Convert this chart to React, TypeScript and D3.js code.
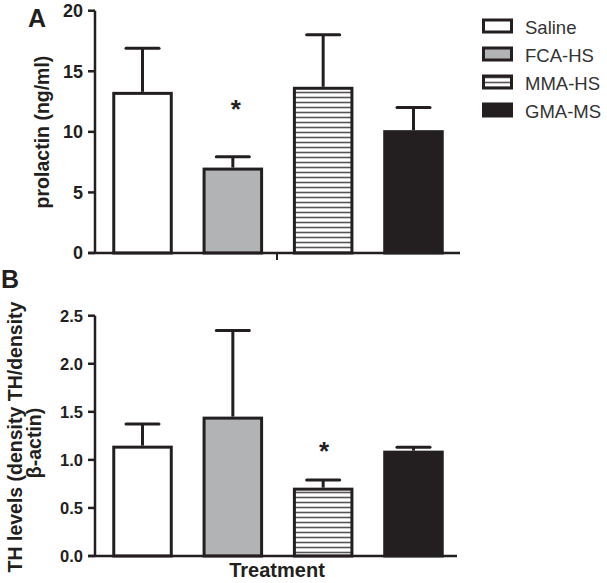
import React from "react";
import * as d3 from "d3";

const categories = ["Saline", "FCA-HS", "MMA-HS", "GMA-MS"];
const prolactinMean = [13.3, 7.05, 13.72, 10.14];
const prolactinSem = [3.6, 0.9, 4.3, 1.87];
const thMean = [1.148, 1.45, 0.711, 1.096];
const thSem = [0.226, 0.895, 0.08, 0.035];
const prolactinTicks = [0, 5, 10, 15, 20];
const thTicks = [0, 0.5, 1.0, 1.5, 2.0, 2.5];
const prolactinSig = [false, true, false, false];
const thSig = [false, false, true, false];

const INK = "#231f20";
const FONT = "'Liberation Sans', Arial, Helvetica, sans-serif";
const fills = ["#ffffff", "#b2b3b5", "url(#stripes)", INK];

const x = d3
  .scaleBand<string>()
  .domain(categories)
  .range([96, 460])
  .paddingInner(0.33)
  .paddingOuter(0.18);

type PanelProps = {
  means: number[];
  sems: number[];
  sig: boolean[];
  ticks: number[];
  domainMax: number;
  yTop: number;
  yBottom: number;
  tickFmt: (v: number) => string;
  tickFont: number;
  axisEnd: number;
  centerTick: boolean;
  starGap: number;
};

function Panel(p: PanelProps) {
  const y = d3.scaleLinear().domain([0, p.domainMax]).range([p.yBottom, p.yTop]);
  const bw = x.bandwidth();
  const axisX = 95;
  return (
    <g>
      {categories.map((c, i) => {
        const x0 = x(c)!;
        const cx = x0 + bw / 2;
        const top = y(p.means[i]);
        const capY = y(p.means[i] + p.sems[i]);
        return (
          <g key={c}>
            <line x1={cx} x2={cx} y1={top} y2={capY} stroke={INK} strokeWidth={3} />
            <line x1={cx - 16.5} x2={cx + 16.5} y1={capY} y2={capY} stroke={INK} strokeWidth={3} strokeLinecap="round" />
            <rect
              x={x0 + 1.5}
              y={top + 1.5}
              width={bw - 3}
              height={p.yBottom - top - 1.5}
              fill={fills[i]}
              stroke={INK}
              strokeWidth={3}
            />
            {p.sig[i] && (
              <text
                x={cx + (i === 1 ? 3 : 1)}
                y={capY - p.starGap}
                textAnchor="middle"
                fontFamily={FONT}
                fontWeight="bold"
                fontSize={26}
                fill={INK}
                dy="0.62em"
              >
                *
              </text>
            )}
          </g>
        );
      })}
      <line x1={axisX} x2={axisX} y1={p.yTop} y2={p.yBottom + 1} stroke={INK} strokeWidth={2.5} />
      <line x1={axisX - 7} x2={p.axisEnd} y1={p.yBottom} y2={p.yBottom} stroke={INK} strokeWidth={2.5} />
      {p.centerTick && (
        <line x1={277} x2={277} y1={p.yBottom} y2={p.yBottom + 7} stroke={INK} strokeWidth={2} />
      )}
      {p.ticks.map((t) => (
        <g key={t}>
          <line x1={axisX - 7} x2={axisX} y1={y(t)} y2={y(t)} stroke={INK} strokeWidth={2.5} />
          <text
            x={83}
            y={y(t)}
            dy="0.36em"
            textAnchor="end"
            fontFamily={FONT}
            fontWeight="bold"
            fontSize={p.tickFont}
            fill={INK}
          >
            {p.tickFmt(t)}
          </text>
        </g>
      ))}
    </g>
  );
}

export default function App() {
  return (
    <svg
      width={607}
      height={583}
      style={{ position: "absolute", left: 0, top: 0, background: "#fff" }}
    >
      <defs>
        <pattern id="stripes" patternUnits="userSpaceOnUse" width={10} height={5}>
          <rect width={10} height={5} fill="#ffffff" />
          <line x1={0} x2={10} y1={2.5} y2={2.5} stroke="#555" strokeWidth={1.6} />
        </pattern>
      </defs>
      <rect width={607} height={583} fill="#fff" />

      {/* Panel A */}
      <text x={28} y={27} fontFamily={FONT} fontWeight="bold" fontSize={25} fill={INK}>A</text>
      <Panel
        means={prolactinMean}
        sems={prolactinSem}
        sig={prolactinSig}
        ticks={prolactinTicks}
        domainMax={20}
        yTop={10.7}
        yBottom={253}
        tickFmt={(v) => d3.format("d")(v)}
        tickFont={18}
        axisEnd={460}
        centerTick={true}
        starGap={55}
      />
      <text
        transform="translate(49,132) rotate(-90)"
        textAnchor="middle"
        fontFamily={FONT}
        fontWeight="bold"
        fontSize={19.5}
        fill={INK}
      >
        prolactin (ng/ml)
      </text>

      {/* Panel B */}
      <text x={1} y={288} fontFamily={FONT} fontWeight="bold" fontSize={25} fill={INK}>B</text>
      <Panel
        means={thMean}
        sems={thSem}
        sig={thSig}
        ticks={thTicks}
        domainMax={2.5}
        yTop={315.7}
        yBottom={556}
        tickFmt={(v) => d3.format(".1f")(v)}
        tickFont={16.5}
        axisEnd={457}
        centerTick={false}
        starGap={36}
      />
      <text
        transform="translate(22,437) rotate(-90)"
        textAnchor="middle"
        fontFamily={FONT}
        fontWeight="bold"
        fontSize={19.5}
        fill={INK}
      >
        TH levels (density TH/density
      </text>
      <text
        transform="translate(41,443) rotate(-90)"
        textAnchor="middle"
        fontFamily={FONT}
        fontWeight="bold"
        fontSize={19.5}
        fill={INK}
      >
        β-actin)
      </text>
      <text
        x={277}
        y={577}
        textAnchor="middle"
        fontFamily={FONT}
        fontWeight="bold"
        fontSize={20}
        fill={INK}
      >
        Treatment
      </text>

      {/* Legend */}
      {categories.map((c, i) => {
        const base = 33.5 + i * 28;
        return (
          <g key={c}>
            <rect
              x={483.5}
              y={base - 13.5}
              width={28}
              height={12}
              fill={fills[i]}
              stroke={INK}
              strokeWidth={3}
            />
            <text x={525} y={base} fontFamily={FONT} fontSize={18.5} fill="#333">
              {c}
            </text>
          </g>
        );
      })}
    </svg>
  );
}
